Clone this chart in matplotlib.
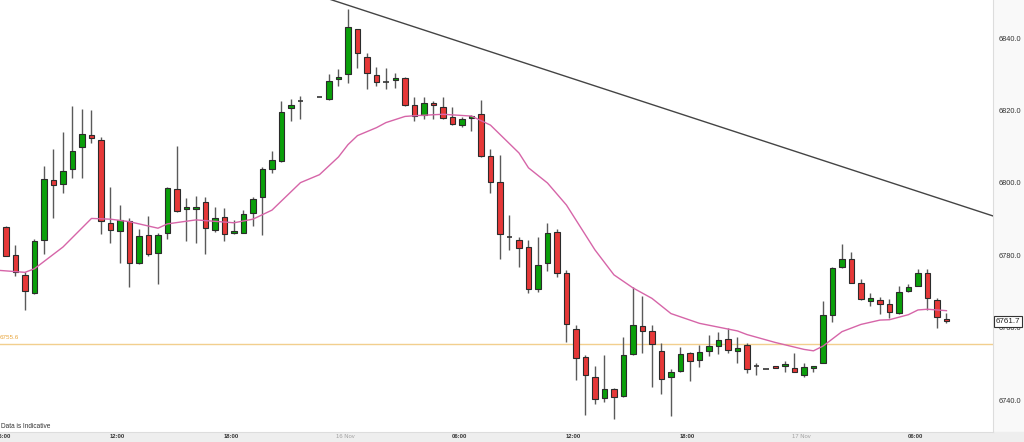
import matplotlib.pyplot as plt
import matplotlib.transforms as mtransforms
import numpy as np
import pandas as pd

plt.rcParams["font.family"] = "Liberation Sans"

# half-hourly candles from 15 Nov 06:00 (slot 32 had no trade)
opens = [6787.8, 6780.2, 6774.7, 6769.5, 6784.2, 6800.8, 6799.7, 6803.8, 6809.9, 6813.2,
         6811.9, 6788.9, 6786.6, 6789.4, 6778.0, 6785.6, 6780.6, 6786.1, 6798.3, 6792.9,
         6792.7, 6794.7, 6787.1, 6790.7, 6786.1, 6786.3, 6791.8, 6796.0, 6803.8, 6806.2,
         6820.7, 6822.7, np.nan, 6823.7, 6823.1, 6828.7, 6830.1, 6842.5, 6834.8, 6829.8,
         6827.9, 6828.4, 6829.1, 6821.6, 6818.8, 6821.8, 6821.1, 6818.2, 6815.9, 6818.1,
         6819.2, 6807.6, 6800.2, 6785.1, 6784.3, 6782.2, 6770.6, 6778.0, 6786.4, 6775.2,
         6759.5, 6752.0, 6746.4, 6740.5, 6743.0, 6741.2, 6752.6, 6760.4, 6759.0, 6753.5,
         6746.3, 6748.0, 6753.0, 6751.1, 6753.6, 6755.0, 6756.9, 6753.6, 6755.2, 6749.3,
         6748.6, 6749.5, 6749.5, 6748.9, 6746.8, 6748.8, 6750.2, 6763.5, 6776.9, 6779.0,
         6772.4, 6767.5, 6767.6, 6766.5, 6764.0, 6770.1, 6771.6, 6775.0, 6767.7, 6762.5]
highs = [6788.2, 6782.9, 6775.3, 6784.4, 6804.7, 6809.3, 6814.0, 6821.3, 6820.4, 6820.2,
         6812.6, 6798.8, 6793.8, 6790.3, 6787.2, 6790.9, 6786.1, 6798.8, 6810.3, 6795.8,
         6796.4, 6796.2, 6793.3, 6793.0, 6789.8, 6792.5, 6796.2, 6804.3, 6808.8, 6822.7,
         6823.2, 6824.1, np.nan, 6823.7, 6830.1, 6831.5, 6848.0, 6842.5, 6835.9, 6832.2,
         6831.7, 6830.5, 6829.4, 6823.7, 6823.7, 6822.7, 6823.7, 6821.1, 6818.3, 6818.8,
         6822.9, 6809.3, 6807.7, 6791.2, 6785.2, 6784.2, 6785.0, 6788.9, 6787.3, 6775.9,
         6760.7, 6752.4, 6749.4, 6752.4, 6743.4, 6757.5, 6771.2, 6768.8, 6760.7, 6755.9,
         6748.5, 6754.7, 6753.4, 6755.2, 6758.1, 6758.7, 6759.8, 6757.5, 6755.8, 6750.3,
         6748.6, 6749.5, 6750.7, 6753.1, 6750.2, 6749.2, 6767.4, 6776.7, 6783.1, 6780.9,
         6773.4, 6769.7, 6768.4, 6767.9, 6771.5, 6772.0, 6776.1, 6776.1, 6768.1, 6764.0]
lows = [6779.9, 6774.4, 6764.9, 6769.3, 6780.3, 6790.2, 6797.3, 6801.3, 6801.3, 6811.0,
        6785.9, 6783.3, 6777.9, 6771.3, 6777.6, 6779.9, 6772.0, 6784.4, 6791.9, 6783.9,
        6783.3, 6780.5, 6786.5, 6783.9, 6785.9, 6786.1, 6788.1, 6785.6, 6802.7, 6805.9,
        6817.2, 6817.6, np.nan, 6823.7, 6822.9, 6826.9, 6827.7, 6831.7, 6826.0, 6826.9,
        6825.9, 6826.2, 6821.4, 6817.2, 6817.8, 6817.8, 6817.6, 6816.0, 6815.4, 6814.4,
        6807.1, 6797.1, 6779.1, 6781.5, 6776.7, 6769.5, 6769.9, 6775.7, 6773.9, 6756.1,
        6745.5, 6735.9, 6738.8, 6739.5, 6734.7, 6740.9, 6752.4, 6752.9, 6743.5, 6741.8,
        6735.6, 6747.7, 6745.3, 6749.0, 6752.3, 6752.6, 6753.1, 6750.3, 6747.5, 6747.0,
        6748.6, 6748.8, 6747.7, 6747.7, 6746.5, 6747.8, 6750.2, 6761.7, 6776.4, 6772.3,
        6767.7, 6766.1, 6763.8, 6762.8, 6763.7, 6769.9, 6771.5, 6764.9, 6759.8, 6761.2]
closes = [6779.9, 6775.3, 6770.1, 6784.1, 6801.1, 6799.4, 6803.2, 6808.8, 6813.5, 6812.4,
          6789.4, 6787.0, 6789.7, 6777.9, 6785.3, 6780.3, 6785.6, 6798.5, 6792.3, 6793.4,
          6793.4, 6787.5, 6790.2, 6785.8, 6786.5, 6791.3, 6795.6, 6803.8, 6806.3, 6819.5,
          6821.5, 6822.7, np.nan, 6823.7, 6828.3, 6829.1, 6843.2, 6835.9, 6830.3, 6827.8,
          6827.9, 6829.0, 6821.5, 6818.5, 6822.0, 6821.5, 6817.9, 6816.4, 6817.6, 6818.6,
          6807.5, 6800.4, 6785.9, 6785.1, 6781.9, 6770.6, 6777.3, 6786.1, 6775.0, 6761.0,
          6751.7, 6747.0, 6740.2, 6743.0, 6740.9, 6752.4, 6760.7, 6759.1, 6755.5, 6745.7,
          6747.7, 6752.7, 6750.7, 6753.2, 6754.9, 6756.6, 6753.7, 6754.3, 6748.6, 6749.3,
          6748.6, 6748.8, 6749.9, 6747.8, 6749.2, 6749.2, 6763.5, 6776.4, 6778.9, 6772.3,
          6767.8, 6768.2, 6766.5, 6764.3, 6769.9, 6771.2, 6775.0, 6768.1, 6763.0, 6761.8]

times = pd.date_range("2016-11-15 06:00", periods=len(opens), freq="30min")

# moving average read at selected candles
ma_idx = [-1, 2, 3, 6, 9, 11, 13, 16, 17, 20, 24, 26, 28, 31, 33, 35, 36, 37, 39, 40,
          42, 43, 46, 49, 51, 54, 55, 57, 59, 62, 64, 66, 68, 70, 73, 77, 78, 81, 84, 85,
          86, 88, 90, 92, 93, 95, 96, 97, 99]
ma_vals = [6775.9, 6775.3, 6776.3, 6782.3, 6790.2, 6790.0, 6789.3, 6787.5, 6788.7, 6789.8,
           6789.0, 6790.0, 6792.5, 6800.1, 6802.3, 6807.2, 6810.6, 6813.1, 6815.3, 6816.7,
           6818.4, 6818.6, 6819.0, 6818.5, 6816.0, 6808.3, 6804.2, 6800.0, 6793.9, 6781.5,
           6774.6, 6771.0, 6768.1, 6763.9, 6761.2, 6759.1, 6758.1, 6755.9, 6754.0, 6753.6,
           6754.9, 6758.9, 6760.9, 6762.1, 6762.2, 6763.6, 6764.9, 6765.1, 6764.7]

trend_idx = [30, 104]
trend_vals = [6854.3, 6790.8]

ref_level = 6755.6
last_price = 6761.7

GREEN = "#0a9f0a"
RED = "#e63838"

fig = plt.figure(figsize=(10.24, 4.42), dpi=100, facecolor="#f9f9f9")
fig.patches.append(plt.Rectangle((0, 0), 1, 10 / 442, transform=fig.transFigure,
                                 color="#eeeeee", zorder=-1))
ax = fig.add_axes([0, 10 / 442, 993 / 1024, 432 / 442])
ax.set_facecolor("white")

o = np.array(opens)
h = np.array(highs)
l = np.array(lows)
c = np.array(closes)
idx = np.arange(len(o))
w = 0.62

ax.axhline(ref_level, color="#f2cf8e", linewidth=1, zorder=1)
ax.vlines(idx, l, h, color="#5a5a5a", linewidth=1, zorder=2)

up = c > o
down = c < o
flat = c == o
for mask, col in ((up, GREEN), (down, RED)):
    bottom = np.minimum(o, c)[mask]
    height = np.maximum(np.abs(c - o)[mask], 0.5)
    ax.bar(idx[mask], height, bottom=bottom, width=w, color=col,
           edgecolor="#2b2b2b", linewidth=0.8, zorder=3)
ax.hlines(o[flat], idx[flat] - w / 2, idx[flat] + w / 2, color="#333333",
          linewidth=1.2, zorder=3)

ax.plot(ma_idx, ma_vals, color="#d665a8", linewidth=1, zorder=4)
ax.plot(trend_idx, trend_vals, color="#444444", linewidth=1, zorder=4)

ax.set_xlim(-0.63, 103.9)
ax.set_ylim(6731.16, 6850.59)

for s in ("top", "left"):
    ax.spines[s].set_visible(False)
for s in ("right", "bottom"):
    ax.spines[s].set_color("#dddddd")
    ax.spines[s].set_linewidth(0.8)

ax.yaxis.tick_right()
ax.set_yticks([6740, 6760, 6780, 6800, 6820, 6840])
ax.set_yticklabels([f"{v:.1f}" for v in [6740, 6760, 6780, 6800, 6820, 6840]])
ax.tick_params(axis="y", length=0, pad=4, labelsize=5.3, labelcolor="#333333")

tick_pos = [i for i, t in enumerate(times) if t.minute == 0 and t.hour % 6 == 0]
tick_lab = [f"{times[i].day} {times[i]:%b}" if times[i].hour == 0 else f"{times[i]:%H:%M}"
            for i in tick_pos]
ax.set_xticks(tick_pos)
ax.set_xticklabels(tick_lab)
ax.tick_params(axis="x", length=0, pad=1.5, labelsize=4.2)
shift = mtransforms.ScaledTranslation(-2.5 / 100, 0, fig.dpi_scale_trans)
for lab in ax.get_xticklabels():
    lab.set_transform(lab.get_transform() + shift)
    if "Nov" in lab.get_text():
        lab.set_color("#a0a0a0")
    else:
        lab.set_color("#333333")
        lab.set_fontweight("bold")

trans = mtransforms.blended_transform_factory(ax.transAxes, ax.transData)
ax.text(0.0, ref_level + 0.9, f"{ref_level:.1f}", transform=trans, fontsize=4.5,
        color="#e8a53c", ha="left", va="bottom")
ax.text(1.003, last_price, f"{last_price:.1f}", transform=trans, fontsize=5.8,
        color="#222222", ha="left", va="center", clip_on=False, zorder=10,
        bbox=dict(boxstyle="square,pad=0.2", fc="white", ec="#333333", lw=0.8))

fig.text(1 / 1024, (442 - 427) / 442, "Data is Indicative", fontsize=4.7,
         color="#333333", ha="left", va="center")

fig.savefig("out.png", dpi=100, facecolor=fig.get_facecolor())
